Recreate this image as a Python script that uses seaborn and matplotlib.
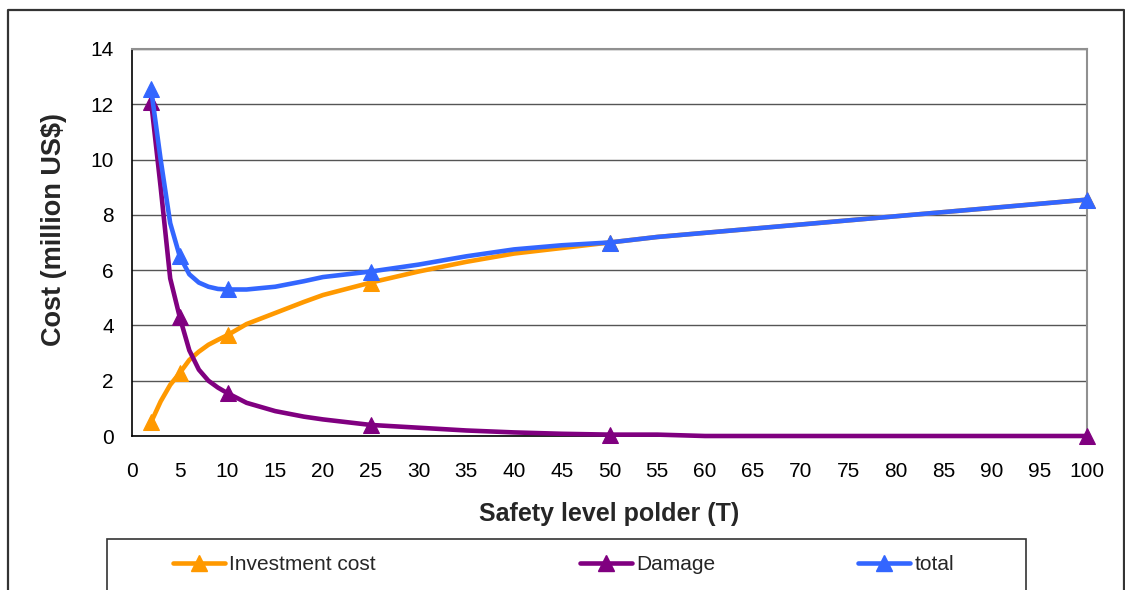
import matplotlib
matplotlib.use("Agg")
import matplotlib.pyplot as plt
import seaborn as sns
import pandas as pd
from matplotlib.lines import Line2D
from matplotlib.patches import Rectangle

# ---- data ----
T = [2, 3, 4, 5, 6, 7, 8, 9, 10, 12, 15, 18, 20, 25, 30, 35, 40, 45, 50, 55, 60, 70, 80, 90, 100]
investment = [0.5, 1.25, 1.85, 2.28, 2.75, 3.05, 3.3, 3.48, 3.65, 4.05, 4.45, 4.85, 5.1, 5.55,
              5.95, 6.3, 6.6, 6.8, 7.0, 7.2, 7.35, 7.65, 7.95, 8.25, 8.55]
damage = [12.1, 9.0, 5.7, 4.3, 3.1, 2.4, 2.0, 1.75, 1.55, 1.2, 0.9, 0.7, 0.6, 0.4,
          0.3, 0.2, 0.13, 0.08, 0.05, 0.05, 0.0, 0.0, 0.0, 0.0, 0.0]
total = [12.55, 10.0, 7.7, 6.5, 5.85, 5.55, 5.4, 5.32, 5.3, 5.3, 5.4, 5.6, 5.75, 5.95,
         6.2, 6.5, 6.75, 6.9, 7.0, 7.2, 7.35, 7.65, 7.95, 8.25, 8.55]
marker_T = [2, 5, 10, 25, 50, 100]
series_names = ["Investment cost", "Damage", "total"]
colors = ["#FF9900", "#800080", "#3366FF"]
x_ticks = list(range(0, 101, 5))
y_ticks = list(range(0, 15, 2))

df = pd.DataFrame({
    "T": T * 3,
    "cost": investment + damage + total,
    "series": [series_names[0]] * len(T) + [series_names[1]] * len(T) + [series_names[2]] * len(T),
})
mark_idx = [T.index(t) for t in marker_T]

sns.set_style("white")
plt.rcParams["font.family"] = ["Liberation Sans", "DejaVu Sans"]

W, H = 1125, 590
fig = plt.figure(figsize=(W / 100, H / 100), dpi=100)
L, R, B, TOP = 132, 1087, 436, 49
ax = fig.add_axes([L / W, 1 - B / H, (R - L) / W, (B - TOP) / H])

sns.lineplot(data=df, x="T", y="cost", hue="series", hue_order=series_names,
             palette=colors, ax=ax, lw=3.3, marker="^", markersize=12,
             markevery=mark_idx, legend=False, clip_on=False, zorder=3)
for ln in ax.get_lines():
    ln.set_markeredgecolor(ln.get_color())
    ln.set_solid_capstyle("round")
    ln.set_solid_joinstyle("round")

ax.set_xlim(0, 100)
ax.set_ylim(0, 14)
ax.set_xticks(x_ticks)
ax.set_yticks(y_ticks)
ax.tick_params(axis="both", labelsize=15, colors="black", direction="out")
ax.tick_params(axis="x", length=6, width=1, pad=13)
ax.tick_params(axis="y", length=6, width=1, pad=7)
ax.yaxis.grid(True, color="#555555", lw=1)
ax.set_axisbelow(True)
for side in ["left", "bottom"]:
    ax.spines[side].set_color("black")
    ax.spines[side].set_linewidth(1.2)
for side in ["top", "right"]:
    ax.spines[side].set_color("#909090")
    ax.spines[side].set_linewidth(1.5)

ax.set_xlabel("Safety level polder (T)", fontsize=18, fontweight="bold", va="center")
ax.xaxis.set_label_coords(0.5, (B - 514) / (B - TOP))
ax.set_ylabel("Cost (million US$)", fontsize=19.5, fontweight="bold", va="center")
ax.yaxis.set_label_coords((54 - L) / (R - L), (B - 230) / (B - TOP))

# outer chart border (left, top, right)
fig.add_artist(Line2D([8 / W, 8 / W, 1124 / W, 1124 / W],
                      [0, 1 - 10 / H, 1 - 10 / H, 0],
                      transform=fig.transFigure, color="#333333", lw=1.6))
# legend frame
fig.add_artist(Rectangle((107 / W, -0.05), (1026 - 107) / W, 0.05 + 1 - 539 / H,
                         transform=fig.transFigure, fill=False, ec="#333333", lw=1.2))

lines = ax.get_lines()[:3]
leg_x = [173, 580, 858]
for ln, name, lx in zip(lines, series_names, leg_x):
    h = Line2D([], [], color=ln.get_color(), lw=3.3, marker="^", markersize=12,
               markeredgecolor=ln.get_color(), solid_capstyle="round")
    fig.legend([h], [name], loc="center left", bbox_to_anchor=(lx / W, 1 - 565 / H),
               frameon=False, fontsize=15, handlelength=2.5, handletextpad=0.2,
               borderpad=0, borderaxespad=0)

fig.savefig("out.png", dpi=100)
